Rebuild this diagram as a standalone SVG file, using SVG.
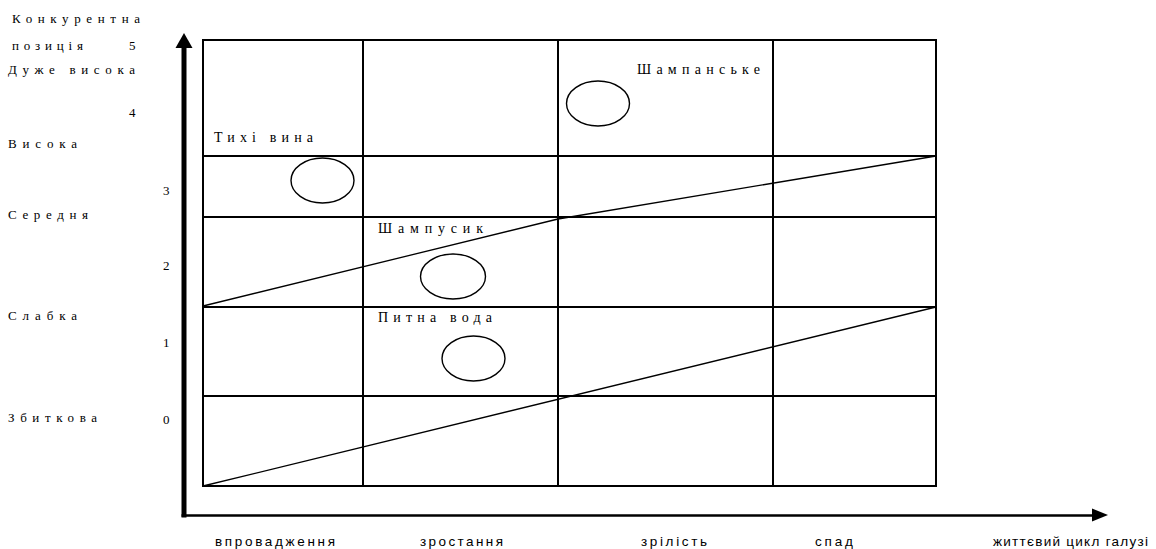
<svg xmlns="http://www.w3.org/2000/svg" width="1156" height="549" viewBox="0 0 1156 549">
<style>
.lbl{font-family:"Liberation Serif","Times New Roman",serif;font-size:13px;fill:#000}
.glbl{font-family:"Liberation Serif","Times New Roman",serif;font-size:14px;fill:#000}
.axl{font-family:"Liberation Sans",Arial,sans-serif;font-size:13.5px;fill:#000}
.grid{stroke:#000;stroke-width:2;fill:none}
.diag{stroke:#000;stroke-width:1.3;fill:none}
.ell{stroke:#000;stroke-width:1.4;fill:none}
</style>
<rect width="1156" height="549" fill="#fff"/>
<g id="axes">
<line x1="184" y1="517.5" x2="184" y2="46" stroke="#000" stroke-width="5"/>
<polygon points="184,33 175.5,48 192.5,48" fill="#000"/>
<line x1="181.5" y1="515.5" x2="1095" y2="515.5" stroke="#000" stroke-width="2.5"/>
<polygon points="1108,515 1092,508.5 1092,521.5" fill="#000"/>
</g>
<g id="grid">
<rect class="grid" x="203" y="40" width="733" height="446"/>
<line class="grid" x1="363" y1="40" x2="363" y2="486"/>
<line class="grid" x1="558" y1="40" x2="558" y2="486"/>
<line class="grid" x1="773" y1="40" x2="773" y2="486"/>
<line class="grid" x1="203" y1="156" x2="936" y2="156"/>
<line class="grid" x1="203" y1="217" x2="936" y2="217"/>
<line class="grid" x1="203" y1="307" x2="936" y2="307"/>
<line class="grid" x1="203" y1="396" x2="936" y2="396"/>
</g>
<g id="connectors">
<polyline class="diag" points="203,306 558,219 936,156"/>
<line class="diag" x1="203" y1="486" x2="936" y2="307"/>
</g>
<g id="y-labels">
<text class="lbl" x="12" y="22.5" textLength="128" lengthAdjust="spacing">Конкурентна</text>
<text class="lbl" x="12" y="49.5" textLength="71" lengthAdjust="spacing">позиція</text>
<text class="lbl" x="129" y="49.5">5</text>
<text class="lbl" x="8" y="73.5" textLength="127" lengthAdjust="spacing">Дуже висока</text>
<text class="lbl" x="129" y="117">4</text>
<text class="lbl" x="8" y="148" textLength="69" lengthAdjust="spacing">Висока</text>
<text class="lbl" x="163" y="195">3</text>
<text class="lbl" x="8" y="219" textLength="80" lengthAdjust="spacing">Середня</text>
<text class="lbl" x="163" y="270">2</text>
<text class="lbl" x="8" y="320" textLength="69" lengthAdjust="spacing">Слабка</text>
<text class="lbl" x="163" y="347">1</text>
<text class="lbl" x="8" y="421.5" textLength="89" lengthAdjust="spacing">Збиткова</text>
<text class="lbl" x="163" y="424">0</text>
</g>
<g id="node-shampanske">
<text class="glbl" x="637" y="73.5" textLength="123" lengthAdjust="spacing">Шампанське</text>
<ellipse class="ell" cx="598" cy="103.5" rx="31.5" ry="22.5"/>
</g>
<g id="node-tikhi-vyna">
<text class="glbl" x="214" y="142" textLength="99" lengthAdjust="spacing">Тихі вина</text>
<ellipse class="ell" cx="322.5" cy="180.5" rx="31.5" ry="22.5"/>
</g>
<g id="node-shampusyk">
<text class="glbl" x="378" y="233" textLength="105" lengthAdjust="spacing">Шампусик</text>
<ellipse class="ell" cx="453" cy="276.5" rx="32.5" ry="22.5"/>
</g>
<g id="node-pytna-voda">
<text class="glbl" x="378" y="322" textLength="114" lengthAdjust="spacing">Питна вода</text>
<ellipse class="ell" cx="473.5" cy="358.5" rx="31.5" ry="22.5"/>
</g>
<g id="x-labels">
<text class="axl" x="215" y="546" textLength="120" lengthAdjust="spacing">впровадження</text>
<text class="axl" x="420" y="546" textLength="83" lengthAdjust="spacing">зростання</text>
<text class="axl" x="641" y="546" textLength="66" lengthAdjust="spacing">зрілість</text>
<text class="axl" x="815" y="546" textLength="38" lengthAdjust="spacing">спад</text>
<text class="axl" x="993" y="546" textLength="155" lengthAdjust="spacing">життєвий цикл галузі</text>
</g>
</svg>
